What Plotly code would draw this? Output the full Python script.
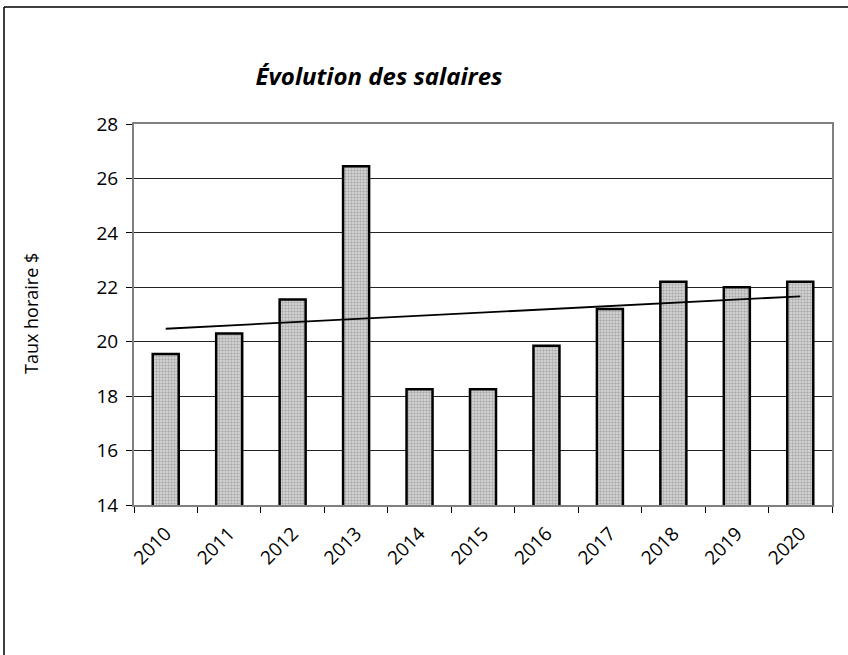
import numpy as np
import plotly.graph_objects as go

years = ["2010", "2011", "2012", "2013", "2014", "2015", "2016", "2017", "2018", "2019", "2020"]
wages = [19.55, 20.3, 21.55, 26.45, 18.25, 18.25, 19.85, 21.2, 22.2, 22.0, 22.2]
y_ticks = [14, 16, 18, 20, 22, 24, 26, 28]
title_text = "Évolution des salaires"
y_title = "Taux horaire $"

idx = np.arange(len(years))
slope, intercept = np.polyfit(idx, wages, 1)
trend = [intercept + slope * i for i in idx]

FONT = "Open Sans"
L, R, T, B = 134, 16, 124, 150
PW, PH = 848 - L - R, 655 - T - B

fig = go.Figure()
fig.add_trace(go.Bar(
    x=years, y=wages, width=0.41,
    marker=dict(
        color="white",
        line=dict(color="black", width=2.5),
        pattern=dict(shape=".", fgcolor="#7a7a7a", bgcolor="#dcdcdc", size=3, solidity=0.5),
    ),
    showlegend=False,
))
fig.add_trace(go.Scatter(
    x=years, y=trend, mode="lines",
    line=dict(color="black", width=1.8),
    showlegend=False,
))

fx = lambda px: (px - L) / PW
fy = lambda py: (655 - B - py) / PH

fig.update_layout(
    width=848, height=655, autosize=False,
    margin=dict(l=L, r=R, t=T, b=B, autoexpand=False),
    paper_bgcolor="white", plot_bgcolor="white",
    font=dict(family=FONT, color="black", size=16),
    title=dict(text=title_text, x=379 / 848, xanchor="center", xref="container",
               y=1 - 77 / 655, yanchor="middle", yref="container",
               font=dict(family=FONT, size=24, color="black", weight="bold", style="italic")),
    xaxis=dict(
        type="category", tickangle=-45, tickson="boundaries", ticks="outside", ticklen=6,
        tickcolor="black", tickwidth=1, showgrid=False, showline=True, linecolor="#808080",
        linewidth=2, mirror=True, tickfont=dict(family=FONT, size=19), automargin=False,
        ticklabelstandoff=8,
    ),
    yaxis=dict(
        range=[14, 28], tickvals=y_ticks, ticks="outside", ticklen=6, tickcolor="black",
        showgrid=True, gridcolor="#222222", gridwidth=1, showline=True, linecolor="#808080",
        linewidth=2, mirror=True, zeroline=False, tickfont=dict(family=FONT, size=19),
        automargin=False, ticklabelstandoff=4,
    ),
    bargap=0.59,
    annotations=[dict(text=y_title, textangle=-90, xref="paper", yref="paper",
                      x=fx(31), y=fy(313), xanchor="center", yanchor="middle",
                      showarrow=False, font=dict(family=FONT, size=18, color="black"))],
    shapes=[
        dict(type="line", xref="paper", yref="paper", x0=fx(4), x1=fx(848), y0=fy(7), y1=fy(7),
             line=dict(color="black", width=1.5), layer="below"),
        dict(type="line", xref="paper", yref="paper", x0=fx(4), x1=fx(4), y0=fy(7), y1=fy(655),
             line=dict(color="black", width=1.5), layer="below"),
    ],
)

fig.write_html("out.html", config={"displayModeBar": False}, include_plotlyjs=True,
               post_script="document.documentElement.style.overflow='hidden';"
                           "document.documentElement.style.margin='0';"
                           "document.body.style.margin='0';document.body.style.padding='0';"
                           "document.body.style.overflow='hidden';")
